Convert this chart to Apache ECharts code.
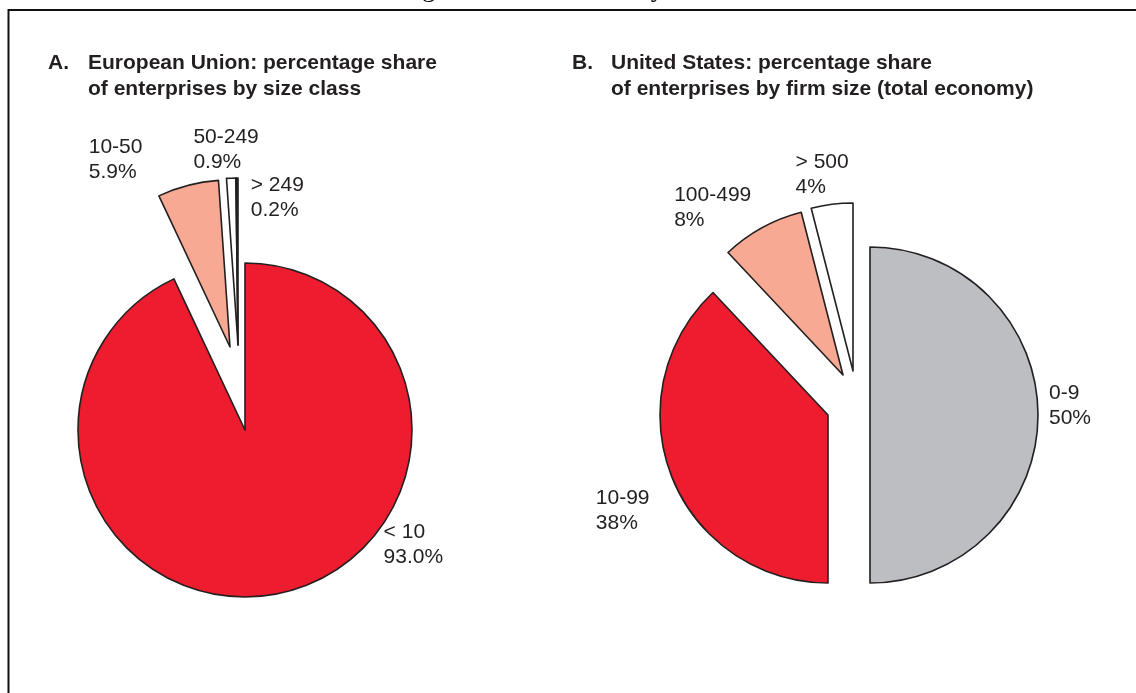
<!DOCTYPE html>
<html><head><meta charset="utf-8">
<script src="https://cdn.jsdelivr.net/npm/echarts@6/dist/echarts.min.js"></script>
<style>html,body{margin:0;padding:0;background:#fff}#c{width:1136px;height:693px}</style>
</head><body><div id="c"></div>
<script>
// ---- data ----
const euCategories = ['< 10', '10-50', '50-249', '> 249'];
const euValues = [93.0, 5.9, 0.9, 0.2];
const usCategories = ['0-9', '10-99', '100-499', '> 500'];
const usValues = [50, 38, 8, 4];

// ---- styling / layout (not data) ----
const INK = '#231F20';
const euColors = ['#ED1C2E', '#F7A994', '#FFFFFF', '#231F20'];
const usColors = ['#BCBEC1', '#ED1C2E', '#F7A994', '#FFFFFF'];
// exploded groups: which slices each sub-pie shows, and where its centre sits
const euGroups = [[0], [1], [2, 3]];
const euCenters = [[245, 430], [230, 347], [238, 345]];
const usGroups = [[0], [1], [2], [3]];
const usCenters = [[870, 415], [828, 415], [843, 375], [853, 371]];
// label nudges relative to library's outside-label anchor
const euNudge = {'< 10': [95, -58], '10-50': [-38, -16], '50-249': [33, -18], '> 249': [72, 30]};
const usNudge = {'0-9': [-4, -9], '10-99': [-8, 30], '100-499': [-1, -11], '> 500': [23, -20]};

function makeSeries(cats, vals, colors, visible, center, radius, digits, nudge) {
  return {
    type: 'pie', radius: radius, center: center, startAngle: 90, clockwise: true,
    avoidLabelOverlap: false, silent: true, animation: false,
    emphasis: {disabled: true},
    labelLine: {show: false, length: 10, length2: 0},
    label: {
      position: 'outside', distanceToLabelLine: 5,
      formatter: p => p.name + '\n' + p.value.toFixed(digits) + '%',
      fontFamily: 'Liberation Sans, Arial, sans-serif', fontSize: 21, lineHeight: 25, color: INK
    },
    labelLayout: function (p) {
      const n = nudge[cats[p.dataIndex]] || [0, 0];
      return {x: p.labelRect.x + n[0], y: p.labelRect.y + n[1], align: 'left', verticalAlign: 'top'};
    },
    data: cats.map((c, i) => {
      const vis = visible.indexOf(i) >= 0;
      return {
        name: c, value: vals[i],
        itemStyle: vis ? {color: colors[i], borderColor: INK, borderWidth: 1.6}
                       : {color: 'rgba(0,0,0,0)', borderWidth: 0},
        label: {show: vis}
      };
    })
  };
}

const series = [];
euGroups.forEach((g, k) => series.push(makeSeries(euCategories, euValues, euColors, g, euCenters[k], 167, 1, euNudge)));
usGroups.forEach((g, k) => series.push(makeSeries(usCategories, usValues, usColors, g, usCenters[k], 168, 0, usNudge)));

const titleStyle = {fontFamily: 'Liberation Sans, Arial, sans-serif', fontSize: 21, fontWeight: 'bold', lineHeight: 26, color: INK};

const chart = echarts.init(document.getElementById('c'), null, {renderer: 'canvas'});
chart.setOption({
  backgroundColor: '#ffffff',
  title: [
    {text: 'A.', left: 48, top: 50, padding: 0, textStyle: titleStyle},
    {text: 'European Union: percentage share\nof enterprises by size class', left: 88, top: 50, padding: 0, textStyle: titleStyle},
    {text: 'B.', left: 572, top: 50, padding: 0, textStyle: titleStyle},
    {text: 'United States: percentage share\nof enterprises by firm size (total economy)', left: 611, top: 50, padding: 0, textStyle: titleStyle}
  ],
  graphic: [
    {type: 'rect', shape: {x: 8.5, y: 10, width: 1140, height: 700}, style: {fill: 'none', stroke: '#111', lineWidth: 2}, silent: true},
    {type: 'text', x: 399.5, y: -11, style: {text: 'Figure 1. Small firms by size', font: '27px "Liberation Serif", serif', fill: '#111', verticalAlign: 'middle', lineHeight: 27}, silent: true}
  ],
  series: series
});
</script>
</body></html>
